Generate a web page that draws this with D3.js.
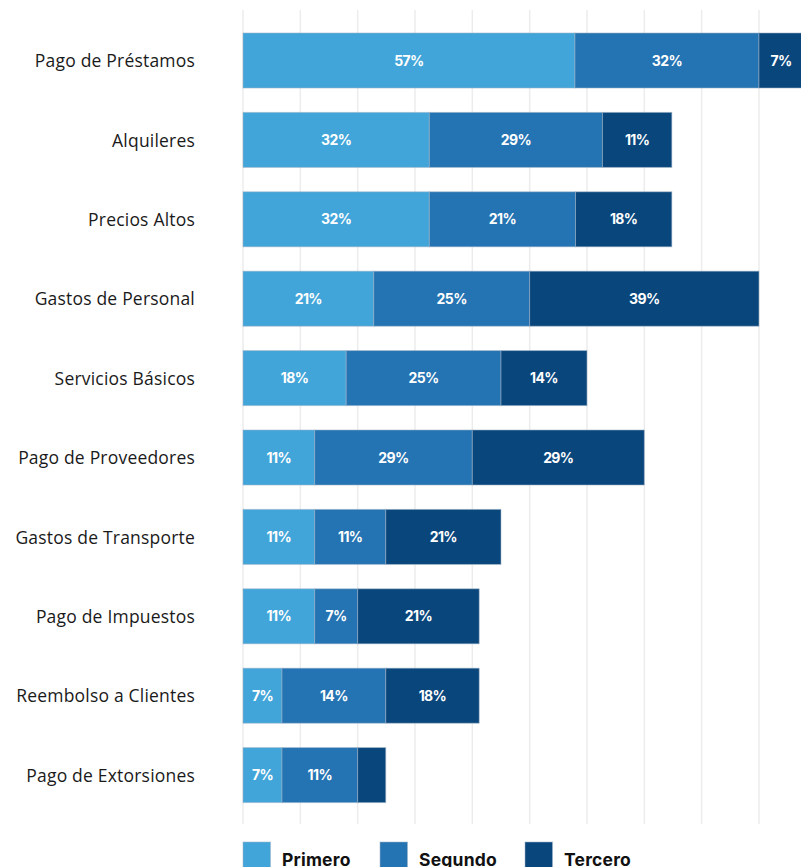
<!DOCTYPE html>
<html>
<head>
<meta charset="utf-8">
<script src="https://cdn.jsdelivr.net/npm/d3@7/dist/d3.min.js"></script>
<style>
  html, body { margin: 0; padding: 0; background: #ffffff; }
  svg { display: block; }
</style>
</head>
<body>
<script>
// ---- Data ----
const categories = [
  "Pago de Préstamos", "Alquileres", "Precios Altos", "Gastos de Personal",
  "Servicios Básicos", "Pago de Proveedores", "Gastos de Transporte",
  "Pago de Impuestos", "Reembolso a Clientes", "Pago de Extorsiones"
];
const seriesNames = ["Primero", "Segundo", "Tercero"];
// segment lengths as drawn in the picture (axis units, one gridline = 10)
const primero = [57.9, 32.5, 32.5, 22.8, 18.0, 12.5, 12.5, 12.5, 6.8, 6.8];
const segundo = [32.1, 30.2, 25.5, 27.2, 27.0, 27.5, 12.4, 7.5, 18.1, 13.2];
const tercero = [7.7, 12.1, 16.8, 40.0, 15.0, 30.0, 20.1, 21.2, 16.3, 4.9];
// printed labels
const primeroLabels = ["57%", "32%", "32%", "21%", "18%", "11%", "11%", "11%", "7%", "7%"];
const segundoLabels = ["32%", "29%", "21%", "25%", "25%", "29%", "11%", "7%", "14%", "11%"];
const terceroLabels = ["7%", "11%", "18%", "39%", "14%", "29%", "21%", "21%", "18%", ""];
const gridTicks = [0, 10, 20, 30, 40, 50, 60, 70, 80, 90, 100];
const colors = ["#42a5d9", "#2473b2", "#09467c"];

// ---- Layout ----
const W = 801, H = 867;
const svg = d3.select("body").append("svg").attr("width", W).attr("height", H);

const x = d3.scaleLinear().domain([0, 100]).range([243, 816.3]);
const y = d3.scaleBand().domain(categories).range([20.8, 814.8])
  .paddingInner(0.307).paddingOuter(0.1535);

// gridlines
svg.append("g").selectAll("line").data(gridTicks).join("line")
  .attr("x1", d => x(d)).attr("x2", d => x(d))
  .attr("y1", 10).attr("y2", 824)
  .attr("stroke", "#ececec").attr("stroke-width", 1.5);

const rows = categories.map((c, i) => ({
  cat: c,
  vals: [primero[i], segundo[i], tercero[i]],
  labels: [primeroLabels[i], segundoLabels[i], terceroLabels[i]]
}));

const segs = [];
rows.forEach(r => {
  let acc = 0;
  r.vals.forEach((v, k) => {
    segs.push({ cat: r.cat, k, x0: acc, x1: acc + v, label: r.labels[k] });
    acc += v;
  });
});

const g = svg.append("g");
g.selectAll("rect").data(segs).join("rect")
  .attr("x", d => x(d.x0))
  .attr("y", d => y(d.cat))
  .attr("width", d => x(d.x1) - x(d.x0))
  .attr("height", y.bandwidth())
  .attr("fill", d => colors[d.k])
  .attr("stroke", "rgba(160,180,200,0.55)")
  .attr("stroke-width", 1);

g.selectAll("text").data(segs.filter(d => d.label)).join("text")
  .attr("x", d => (x(d.x0) + x(d.x1)) / 2)
  .attr("y", d => y(d.cat) + y.bandwidth() / 2)
  .attr("dy", "0.36em")
  .attr("text-anchor", "middle")
  .attr("fill", "#ffffff")
  .attr("font-family", "Inter, 'Noto Sans', sans-serif")
  .attr("font-weight", 700)
  .attr("font-size", 14)
  .attr("letter-spacing", -0.6)
  .text(d => d.label);

// category labels
svg.append("g").selectAll("text").data(categories).join("text")
  .attr("x", 195)
  .attr("y", d => y(d) + y.bandwidth() / 2)
  .attr("dy", "0.38em")
  .attr("text-anchor", "end")
  .attr("fill", "#1a1a1a")
  .attr("font-family", "'Open Sans', 'Noto Sans', sans-serif")
  .attr("font-size", 17.5)
  .attr("letter-spacing", 0.2)
  .text(d => d);

// legend
const legendX = [243, 380, 525];
const lg = svg.append("g").selectAll("g").data(seriesNames).join("g")
  .attr("transform", (d, i) => `translate(${legendX[i]},842)`);
lg.append("rect").attr("width", 27.5).attr("height", 28)
  .attr("fill", (d, i) => colors[i])
  .attr("stroke", "rgba(160,180,200,0.55)").attr("stroke-width", 1);
lg.append("text").attr("x", 39).attr("y", 23.5)
  .attr("fill", "#111")
  .attr("font-family", "Inter, 'Noto Sans', sans-serif")
  .attr("font-weight", 700)
  .attr("font-size", 17.5)
  .attr("letter-spacing", 0.2)
  .text(d => d);
</script>
</body>
</html>
